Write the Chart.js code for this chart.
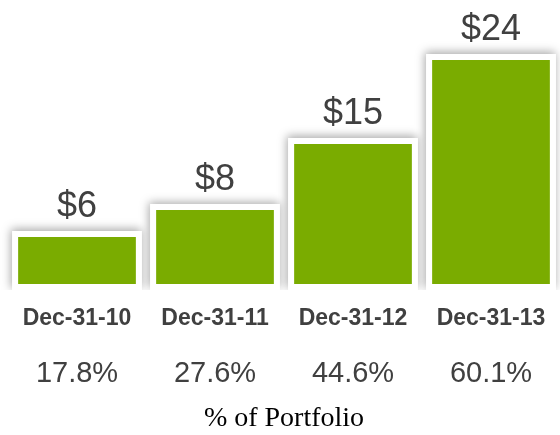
<!DOCTYPE html>
<html>
<head>
<meta charset="utf-8">
<script src="https://cdn.jsdelivr.net/npm/chart.js@4.4.1/dist/chart.umd.min.js"></script>
<style>
    html, body { margin: 0; padding: 0; background: #fff; }
    #wrap { width: 560px; height: 435px; }
</style>
</head>
<body>
<div id="wrap"><canvas id="portfolioChart" width="560" height="435"></canvas></div>
<script>
// Chart data
const dates = ['Dec-31-10', 'Dec-31-11', 'Dec-31-12', 'Dec-31-13'];
const values = [6, 8.75, 15.45, 24];          // bar heights ($)
const valueLabels = ['$6', '$8', '$15', '$24']; // printed above the bars
const percents = ['17.8%', '27.6%', '44.6%', '60.1%'];

const GREEN = '#7aac00';
const TEXT = '#404040';

Chart.defaults.font.family = '"Liberation Sans", Arial, sans-serif';

// Soft shadow behind each bar, cut off at the baseline
const barShadow = {
    id: 'barShadow',
    beforeDatasetsDraw(chart) {
        const ctx = chart.ctx;
        const area = chart.chartArea;
        ctx.save();
        ctx.beginPath();
        ctx.rect(0, 0, chart.width, area.bottom);
        ctx.clip();
        ctx.shadowColor = 'rgba(0, 0, 0, 0.35)';
        ctx.shadowBlur = 9;
        ctx.shadowOffsetX = -1;
        ctx.shadowOffsetY = -2;
        ctx.fillStyle = '#fff';
        chart.getDatasetMeta(0).data.forEach(bar => {
            const { x, y, base, width } = bar.getProps(['x', 'y', 'base', 'width'], true);
            ctx.fillRect(x - width / 2, y, width, base - y);
        });
        ctx.restore();
    }
};

// Dollar labels above the bars
const valueText = {
    id: 'valueText',
    afterDatasetsDraw(chart) {
        const ctx = chart.ctx;
        ctx.save();
        ctx.font = '36px "Liberation Sans", Arial, sans-serif';
        ctx.fillStyle = TEXT;
        ctx.textAlign = 'center';
        ctx.textBaseline = 'alphabetic';
        chart.getDatasetMeta(0).data.forEach((bar, i) => {
            ctx.fillText(valueLabels[i], bar.x, bar.y - 14);
        });
        ctx.restore();
    }
};

new Chart(document.getElementById('portfolioChart'), {
    type: 'bar',
    data: {
        labels: dates,
        datasets: [{
            data: values,
            backgroundColor: GREEN,
            borderColor: '#fff',
            borderWidth: 6,
            borderSkipped: false,
            categoryPercentage: 1,
            barPercentage: 0.94
        }]
    },
    options: {
        responsive: false,
        animation: false,
        layout: { padding: { left: 8, right: -6, top: 0, bottom: 0 } },
        plugins: {
            legend: { display: false },
            tooltip: { enabled: false }
        },
        scales: {
            y: { display: false, min: 0, max: 29.5 },
            x: {
                grid: { display: false },
                border: { display: false },
                ticks: {
                    color: TEXT,
                    padding: 7,
                    maxRotation: 0,
                    autoSkip: false,
                    font: { size: 23, weight: 'bold' }
                },
                afterFit: scale => { scale.height = 42; }
            },
            x2: {
                type: 'category',
                labels: percents,
                position: 'bottom',
                grid: { display: false },
                border: { display: false },
                ticks: {
                    color: TEXT,
                    padding: 17,
                    maxRotation: 0,
                    autoSkip: false,
                    font: { size: 29 }
                },
                title: {
                    display: true,
                    text: '% of Portfolio',
                    color: '#000',
                    padding: { top: 0, bottom: 0 },
                    font: { family: '"Liberation Serif", "Times New Roman", serif', size: 28 }
                },
                afterFit: scale => { scale.height = 103; }
            }
        }
    },
    plugins: [barShadow, valueText]
});
</script>
</body>
</html>
